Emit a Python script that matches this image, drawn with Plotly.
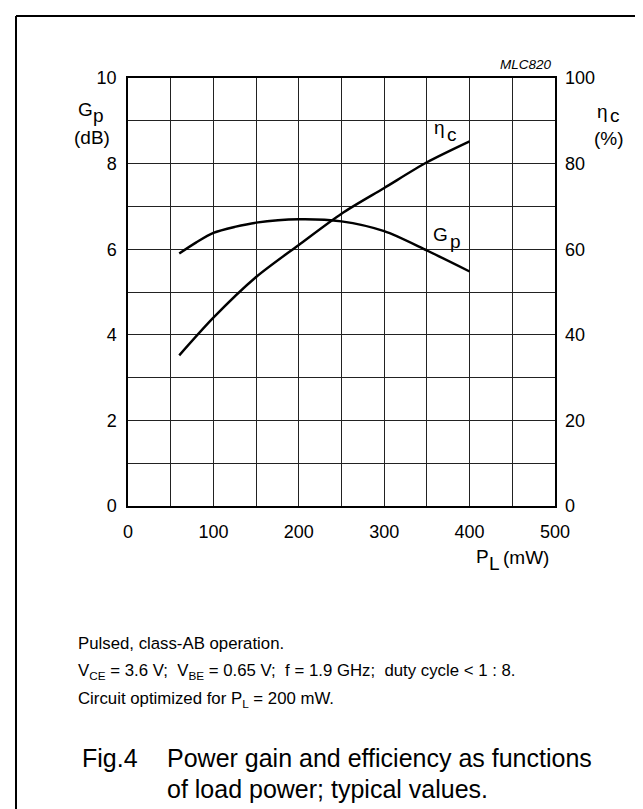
import plotly.graph_objects as go

# ---- data ----
pl_gain = [60, 80, 100, 125, 150, 200, 250, 300, 350, 400]          # P_L (mW)
gp_db = [5.90, 6.16, 6.38, 6.52, 6.62, 6.70, 6.65, 6.42, 5.97, 5.48]  # G_p (dB)

pl_eff = [60, 100, 150, 200, 250, 300, 350, 400]                      # P_L (mW)
eta_pct = [35.2, 44.0, 53.5, 61.0, 68.3, 74.3, 80.3, 85.2]            # eta_c (%)

x_ticks = [0, 100, 200, 300, 400, 500]
gp_ticks = [0, 2, 4, 6, 8, 10]
eta_ticks = [0, 20, 40, 60, 80, 100]

W, H = 643, 809
L, R, T, B = 120, 547, 70, 498   # plot area in pixels
FONT = "Liberation Sans, Arial, Helvetica, sans-serif"


def px(x):
    return (x - L) / (R - L)


def py(y):
    return (B - y) / (B - T)


fig = go.Figure()
fig.add_trace(go.Scatter(x=pl_gain, y=gp_db, mode="lines",
                         line=dict(color="black", width=2.4, shape="spline", smoothing=0.8),
                         yaxis="y", showlegend=False))
fig.add_trace(go.Scatter(x=pl_eff, y=eta_pct, mode="lines",
                         line=dict(color="black", width=2.4, shape="spline", smoothing=0.8),
                         yaxis="y2", showlegend=False))

grid = "#222222"
fig.update_layout(
    width=W, height=H,
    margin=dict(l=L, r=W - R, t=T, b=H - B, autoexpand=False),
    paper_bgcolor="white", plot_bgcolor="white",
    font=dict(family=FONT, size=18, color="black"),
    xaxis=dict(range=[0, 500], tickvals=x_ticks, showgrid=True, gridcolor=grid, gridwidth=1,
               minor=dict(dtick=50, showgrid=True, gridcolor=grid, gridwidth=1),
               showline=True, linecolor="black", linewidth=1.5, mirror=True,
               ticks="", ticklabelstandoff=9, zeroline=False, fixedrange=True),
    yaxis=dict(range=[0, 10], tickvals=gp_ticks, showgrid=True, gridcolor=grid, gridwidth=1,
               minor=dict(dtick=1, showgrid=True, gridcolor=grid, gridwidth=1),
               showline=True, linecolor="black", linewidth=1.5, mirror=True,
               ticks="", ticklabelstandoff=6, zeroline=False),
    yaxis2=dict(range=[0, 100], tickvals=eta_ticks, overlaying="y", side="right",
                showgrid=False, showline=False, ticks="", ticklabelstandoff=9,
                zeroline=False),
)

ann = []


def text(x, y, s, size=19, xanchor="center", italic=False):
    ann.append(dict(x=px(x), y=py(y), xref="paper", yref="paper", text=s, showarrow=False,
                    xanchor=xanchor, yanchor="middle",
                    font=dict(family=FONT, size=size, color="black",
                              style="italic" if italic else "normal")))


# axis titles
text(77, 101, "G")
text(90, 108, "p")
text(84, 129, "(dB)")
text(594, 103, "η")
text(607, 108, "c")
text(601, 130, "(%)")
text(474, 548, "P")
text(486, 555, "L")
text(518, 549, "(mW)")
# curve labels
text(431, 120, "η")
text(444, 126, "c")
text(432, 226, "G")
text(447, 233, "p")
# reference code
text(546, 57, "MLC820", size=13.5, xanchor="right", italic=True)
# notes
NS = 16.8
text(68, 635, "Pulsed, class-AB operation.", size=NS, xanchor="left")
text(68, 663, "V<sub>CE</sub> = 3.6 V;&nbsp; V<sub>BE</sub> = 0.65 V;&nbsp; f = 1.9 GHz;&nbsp; "
              "duty cycle &lt; 1 : 8.",
     size=NS, xanchor="left")
text(68, 691, "Circuit optimized for P<sub>L</sub> = 200 mW.", size=NS, xanchor="left")
text(72, 750, "Fig.4", size=25, xanchor="left")
text(157, 750, "Power gain and efficiency as functions", size=25, xanchor="left")
text(157, 781, "of load power; typical values.", size=25, xanchor="left")
fig.update_layout(annotations=ann)

# outer frame
fig.add_shape(type="line", xref="paper", yref="paper", x0=px(8), x1=px(8), y0=py(8), y1=py(812),
              line=dict(color="black", width=2))
fig.add_shape(type="line", xref="paper", yref="paper", x0=px(8), x1=px(634), y0=py(8), y1=py(8),
              line=dict(color="black", width=2))
fig.add_shape(type="line", xref="paper", yref="paper", x0=px(634), x1=px(634), y0=py(8), y1=py(812),
              line=dict(color="black", width=2))

fig.write_html("out.html")
